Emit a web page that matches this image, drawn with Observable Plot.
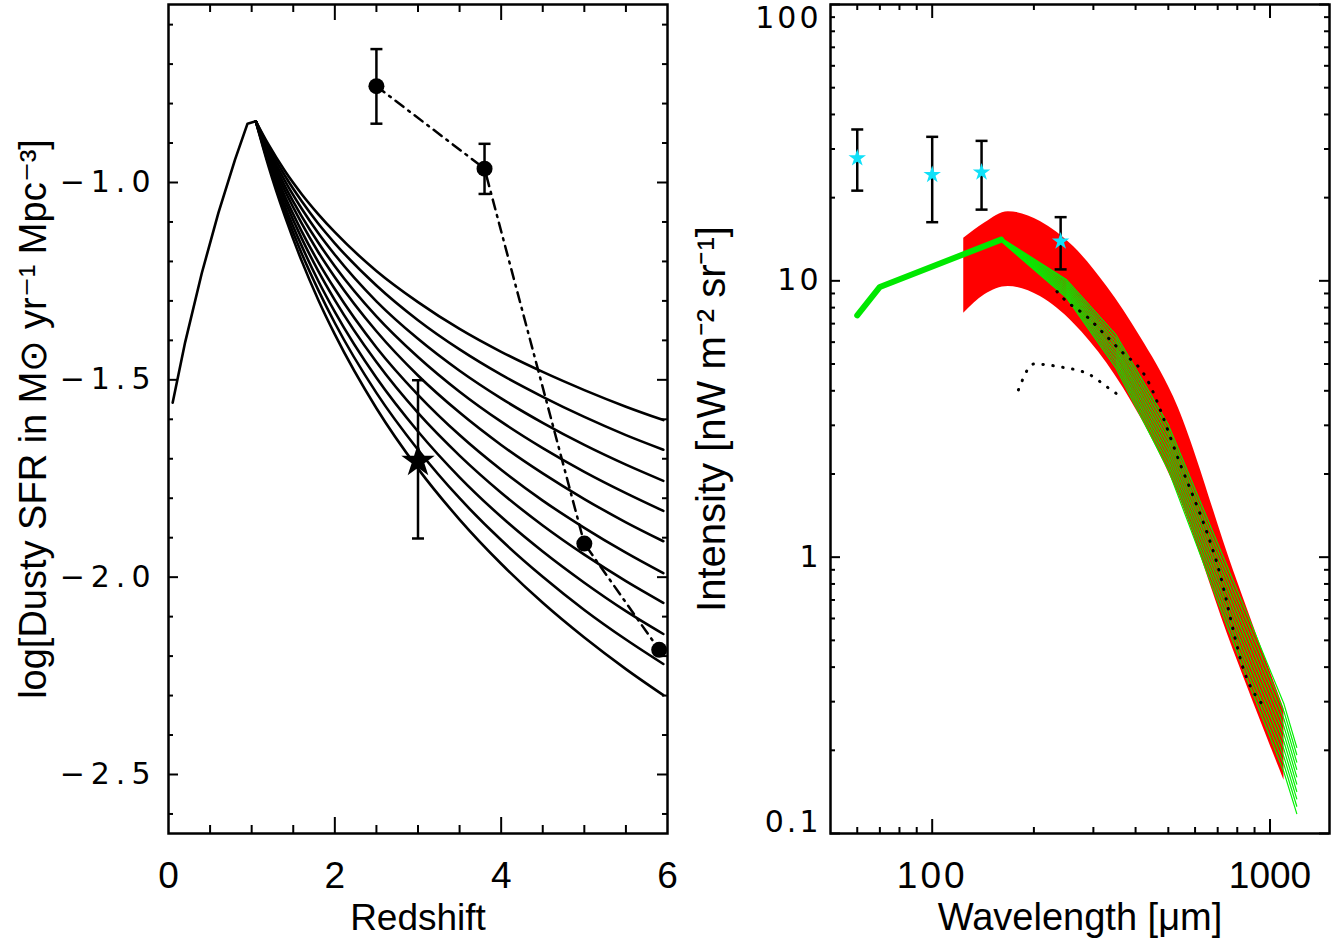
<!DOCTYPE html>
<html><head><meta charset="utf-8">
<script src="https://cdn.jsdelivr.net/npm/d3@7"></script>
<script src="https://cdn.jsdelivr.net/npm/@observablehq/plot@0.6"></script>
<style>
html,body{margin:0;padding:0;background:#fff;}
#wrap{position:relative;width:1343px;height:943px;overflow:hidden;background:#fff;}
#left,#right{position:absolute;top:0;}
#left{left:0;} #right{left:680px;}
</style></head><body>
<div id="wrap"><div id="left"></div><div id="right"></div></div>
<script>
// ---------------- Left panel: dusty SFR density vs redshift ----------------
const zModel = [1.05, 1.2, 1.4, 1.6, 1.8, 2.0, 2.5, 3.0, 3.5, 4.0, 4.5, 5.0, 5.5, 5.95];
const sfrModel1  = [-0.845,-0.903,-0.971,-1.029,-1.080,-1.126,-1.224,-1.303,-1.371,-1.429,-1.480,-1.526,-1.568,-1.602];
const sfrModel2  = [-0.845,-0.909,-0.983,-1.047,-1.104,-1.154,-1.261,-1.349,-1.423,-1.487,-1.543,-1.594,-1.640,-1.677];
const sfrModel3  = [-0.845,-0.915,-0.996,-1.066,-1.128,-1.183,-1.301,-1.396,-1.477,-1.547,-1.609,-1.665,-1.715,-1.756];
const sfrModel4  = [-0.845,-0.921,-1.009,-1.085,-1.152,-1.212,-1.339,-1.442,-1.530,-1.606,-1.673,-1.733,-1.787,-1.832];
const sfrModel5  = [-0.845,-0.927,-1.021,-1.103,-1.176,-1.240,-1.377,-1.489,-1.583,-1.665,-1.737,-1.802,-1.861,-1.909];
const sfrModel6  = [-0.845,-0.933,-1.035,-1.123,-1.201,-1.270,-1.418,-1.538,-1.640,-1.728,-1.806,-1.875,-1.938,-1.990];
const sfrModel7  = [-0.845,-0.939,-1.047,-1.141,-1.224,-1.298,-1.455,-1.584,-1.692,-1.786,-1.869,-1.943,-2.010,-2.065];
const sfrModel8  = [-0.845,-0.945,-1.060,-1.160,-1.249,-1.328,-1.495,-1.631,-1.747,-1.847,-1.935,-2.014,-2.086,-2.144];
const sfrModel9  = [-0.845,-0.951,-1.073,-1.179,-1.272,-1.356,-1.533,-1.677,-1.800,-1.906,-1.999,-2.083,-2.158,-2.220];
const sfrModel10 = [-0.845,-0.957,-1.086,-1.198,-1.297,-1.385,-1.572,-1.725,-1.854,-1.966,-2.065,-2.153,-2.233,-2.299];
const sfrModels = [sfrModel1,sfrModel2,sfrModel3,sfrModel4,sfrModel5,sfrModel6,sfrModel7,sfrModel8,sfrModel9,sfrModel10];

const zRise   = [0.05, 0.2, 0.4, 0.6, 0.8, 0.95, 1.05];
const sfrRise = [-1.558, -1.405, -1.230, -1.077, -0.942, -0.851, -0.845];

const zObs     = [2.5, 3.8, 5.0, 5.9];
const sfrObs   = [-0.756, -0.965, -1.915, -2.184];
const zObsErr  = [2.5, 3.8];
const sfrObsLo = [-0.851, -1.029];
const sfrObsHi = [-0.662, -0.902];

const zStar = [3.0];
const sfrStar = [-1.706];
const sfrStarLo = [-1.902];
const sfrStarHi = [-1.501];

const zTickMajor = [0, 2, 4, 6];
const zTickMinor = [0.5, 1, 1.5, 2.5, 3, 3.5, 4.5, 5, 5.5];
const sfrTickMajor = [-1.0, -1.5, -2.0, -2.5];
const sfrTickMinor = [-0.6,-0.7,-0.8,-0.9,-1.1,-1.2,-1.3,-1.4,-1.6,-1.7,-1.8,-1.9,-2.1,-2.2,-2.3,-2.4,-2.6];
const sfrTickLabels = ["\u22121.0", "\u22121.5", "\u22122.0", "\u22122.5"];

// ---------------- Right panel: background intensity vs wavelength ----------------
const redLam = [124, 143, 168, 209, 262, 329, 413, 518, 779, 1100];
const redLo  = [7.64, 8.9, 9.54, 8.77, 7.03, 5.03, 3.22, 1.85, 0.461, 0.156];
const redHi  = [14.26, 16.2, 17.8, 16.4, 13.3, 9.54, 6.28, 3.81, 0.897, 0.283];

const greenLamShared = [60, 70, 160];
const greenIShared   = [7.5, 9.5, 14.1];
const greenLam = [160, 250, 350, 500, 850, 1100, 1200];
const greenHi  = [14.3, 10.08, 6.37, 3.01, 0.633, 0.294, 0.205];
const greenLo  = [13.9, 8.68, 4.84, 2.07, 0.37, 0.1665, 0.118];

const dotALam = [234, 244, 287, 329, 364, 422, 541, 697, 850, 980];
const dotAI   = [9.15, 8.66, 7.42, 6.28, 5.54, 4.63, 2.19, 0.948, 0.369, 0.281];
const dotBLam = [180, 200, 240, 293, 332, 367];
const dotBI   = [4.03, 5.0, 4.88, 4.57, 4.10, 3.76];

const lamObs  = [60, 100, 140, 240];
const intObs  = [27.8, 24.2, 24.7, 13.9];
const intObsLo = [21.2, 16.3, 18.1, 11.0];
const intObsHi = [35.3, 33.2, 32.1, 17.0];

const lamTickMajor = [100, 1000];
const lamTickMinor = [60, 70, 80, 90, 200, 300, 400, 500, 600, 700, 800, 900];
const intTickMajor = [0.1, 1, 10, 100];
const intTickMinor = [0.2,0.3,0.4,0.5,0.6,0.7,0.8,0.9,2,3,4,5,6,7,8,9,20,30,40,50,60,70,80,90];
const intTickLabels = ["0.1", "1", "10", "100"];

// ---------------- helpers ----------------
const capSymbol = {draw(ctx, size) { const w = Math.sqrt(size / Math.PI); ctx.moveTo(-w, 0); ctx.lineTo(w, 0); }};
const TXT = "'Liberation Sans', Arial, sans-serif";
const NUM = "'DejaVu Sans', sans-serif";

function frameTicks(W, H, xMaj, xMin, yMaj, yMin, xMajLen, xMinLen, yMajLen, yMinLen) {
  const s = {stroke: "#000", strokeWidth: 2};
  return [
    Plot.tickX(xMaj, {x: d => d, insetTop: H - xMajLen, ...s}),
    Plot.tickX(xMaj, {x: d => d, insetBottom: H - xMajLen, ...s}),
    Plot.tickX(xMin, {x: d => d, insetTop: H - xMinLen, ...s}),
    Plot.tickX(xMin, {x: d => d, insetBottom: H - xMinLen, ...s}),
    Plot.tickY(yMaj, {y: d => d, insetRight: W - yMajLen, ...s}),
    Plot.tickY(yMaj, {y: d => d, insetLeft: W - yMajLen, ...s}),
    Plot.tickY(yMin, {y: d => d, insetRight: W - yMinLen, ...s}),
    Plot.tickY(yMin, {y: d => d, insetLeft: W - yMinLen, ...s})
  ];
}
function spaceText(svg, labels, spacing) {
  const set = new Set(labels);
  svg.querySelectorAll("text").forEach(t => {
    if (set.has(t.textContent.trim())) t.setAttribute("letter-spacing", spacing);
  });
}

// ---------------- left plot ----------------
{
  const mL = 168, mR = 13, mT = 4, mB = 110, width = 680, height = 943;
  const W = width - mL - mR, H = height - mT - mB;
  const modelRows = sfrModels.flatMap((s, k) => s.map((v, i) => ({z: zModel[i], v, k})));
  const riseRows = zRise.map((z, i) => ({z, v: sfrRise[i]}));
  const obsRows = zObs.map((z, i) => ({z, v: sfrObs[i]}));
  const obsErr = zObsErr.map((z, i) => ({z, lo: sfrObsLo[i], hi: sfrObsHi[i]}));
  const starErr = zStar.map((z, i) => ({z, v: sfrStar[i], lo: sfrStarLo[i], hi: sfrStarHi[i]}));
  const p = Plot.plot({
    width, height, marginLeft: mL, marginRight: mR, marginTop: mT, marginBottom: mB,
    style: {background: "#fff", fontFamily: TXT, overflow: "visible"},
    x: {domain: [0, 6], axis: null},
    y: {domain: [-2.6495, -0.549], axis: null},
    marks: [
      Plot.line(riseRows, {x: "z", y: "v", stroke: "#000", strokeWidth: 2.6}),
      Plot.line(modelRows, {x: "z", y: "v", z: "k", stroke: "#000", strokeWidth: 2.6, curve: "monotone-x"}),
      Plot.line(obsRows, {x: "z", y: "v", stroke: "#000", strokeWidth: 2.5, strokeDasharray: "10 6 2 6"}),
      Plot.ruleX(obsErr, {x: "z", y1: "lo", y2: "hi", stroke: "#000", strokeWidth: 2.5}),
      Plot.dot(obsErr, {x: "z", y: "lo", symbol: capSymbol, r: 6, fill: "none", stroke: "#000", strokeWidth: 2.5}),
      Plot.dot(obsErr, {x: "z", y: "hi", symbol: capSymbol, r: 6, fill: "none", stroke: "#000", strokeWidth: 2.5}),
      Plot.dot(obsRows, {x: "z", y: "v", r: 8, fill: "#000", stroke: "none"}),
      Plot.ruleX(starErr, {x: "z", y1: "lo", y2: "hi", stroke: "#000", strokeWidth: 2.5}),
      Plot.dot(starErr, {x: "z", y: "lo", symbol: capSymbol, r: 6, fill: "none", stroke: "#000", strokeWidth: 2.5}),
      Plot.dot(starErr, {x: "z", y: "hi", symbol: capSymbol, r: 6, fill: "none", stroke: "#000", strokeWidth: 2.5}),
      Plot.dot(starErr, {x: "z", y: "v", symbol: "star", r: 10.5, fill: "#000", stroke: "none"}),
      ...frameTicks(W, H, [2, 4], zTickMinor, sfrTickMajor, sfrTickMinor, 16, 8, 10, 5),
      Plot.frame({stroke: "#000", strokeWidth: 2.5}),
      Plot.text(zTickMajor, {x: d => d, frameAnchor: "bottom", dy: 54, text: d => String(d), fontSize: 37, fontFamily: TXT, fill: "#000"}),
      Plot.text(sfrTickMajor, {y: d => d, frameAnchor: "left", dx: -12, textAnchor: "end", text: (d, i) => sfrTickLabels[i], fontSize: 30, fontFamily: NUM, fill: "#000"}),
      Plot.text(["Redshift"], {frameAnchor: "bottom", dy: 96, text: d => d, fontSize: 37, fontFamily: TXT, fill: "#000"}),
      Plot.text(["log[Dusty SFR in M\u2299 yr\u207B\u00B9 Mpc\u207B\u00B3]"], {frameAnchor: "left", dx: -135, rotate: -90, textAnchor: "middle", text: d => d, fontSize: 38, fontFamily: TXT, fill: "#000"})
    ]
  });
  spaceText(p, sfrTickLabels, 6);
  document.getElementById("left").appendChild(p);
}

// ---------------- right plot ----------------
{
  const mL = 150, mR = 14, mT = 4, mB = 110, width = 663, height = 943;
  const W = width - mL - mR, H = height - mT - mB;
  const redRows = redLam.map((l, i) => ({l, lo: redLo[i], hi: redHi[i]}));
  const sharedRows = greenLamShared.map((l, i) => ({l, v: greenIShared[i]}));
  const nGreen = 10;
  const greenRows = [];
  for (let k = 0; k < nGreen; k++) {
    const f = k / (nGreen - 1);
    greenLam.forEach((l, i) => greenRows.push({l, k, v: Math.exp(Math.log(greenHi[i]) * (1 - f) + Math.log(greenLo[i]) * f)}));
  }
  const dotARows = dotALam.map((l, i) => ({l, v: dotAI[i]}));
  const dotBRows = dotBLam.map((l, i) => ({l, v: dotBI[i]}));
  const obsRows = lamObs.map((l, i) => ({l, v: intObs[i], lo: intObsLo[i], hi: intObsHi[i]}));
  const p = Plot.plot({
    width, height, marginLeft: mL, marginRight: mR, marginTop: mT, marginBottom: mB,
    style: {background: "#fff", fontFamily: TXT, overflow: "visible"},
    x: {type: "log", domain: [50, 1500], axis: null},
    y: {type: "log", domain: [0.1, 100], axis: null},
    marks: [
      Plot.areaY(redRows, {x: "l", y1: "lo", y2: "hi", fill: "#ff0000", curve: "monotone-x"}),
      Plot.line(greenRows, {x: "l", y: "v", z: "k", stroke: "#00f000", strokeWidth: 1.2}),
      Plot.line(sharedRows, {x: "l", y: "v", stroke: "#00e800", strokeWidth: 6, strokeLinejoin: "miter"}),
      Plot.line(dotARows, {x: "l", y: "v", stroke: "#000", strokeWidth: 3, strokeDasharray: "0.5 9.5", strokeLinecap: "round", curve: "monotone-x"}),
      Plot.line(dotBRows, {x: "l", y: "v", stroke: "#000", strokeWidth: 3, strokeDasharray: "0.5 9.5", strokeLinecap: "round", curve: "monotone-x"}),
      Plot.ruleX(obsRows, {x: "l", y1: "lo", y2: "hi", stroke: "#000", strokeWidth: 2.5}),
      Plot.dot(obsRows, {x: "l", y: "lo", symbol: capSymbol, r: 6, fill: "none", stroke: "#000", strokeWidth: 2.5}),
      Plot.dot(obsRows, {x: "l", y: "hi", symbol: capSymbol, r: 6, fill: "none", stroke: "#000", strokeWidth: 2.5}),
      Plot.dot(obsRows, {x: "l", y: "v", symbol: "star", r: 5.5, fill: "#10e0f8", stroke: "none"}),
      ...frameTicks(W, H, lamTickMajor, lamTickMinor, intTickMajor, intTickMinor, 14, 6, 10, 5),
      Plot.frame({stroke: "#000", strokeWidth: 2.5}),
      Plot.text(lamTickMajor, {x: d => d, frameAnchor: "bottom", dy: 54, text: d => String(d), fontSize: 37, fontFamily: TXT, fill: "#000"}),
      Plot.text([10, 1], {y: d => d, frameAnchor: "left", dx: -9, textAnchor: "end", text: d => intTickLabels[intTickMajor.indexOf(d)], fontSize: 30, fontFamily: NUM, fill: "#000"}),
      Plot.text([100], {y: d => d, frameAnchor: "left", dx: -9, dy: 14, textAnchor: "end", text: d => intTickLabels[intTickMajor.indexOf(d)], fontSize: 30, fontFamily: NUM, fill: "#000"}),
      Plot.text([0.1], {y: d => d, frameAnchor: "left", dx: -9, dy: -11, textAnchor: "end", text: d => intTickLabels[intTickMajor.indexOf(d)], fontSize: 30, fontFamily: NUM, fill: "#000"}),
      Plot.text(["Wavelength [\u03BCm]"], {frameAnchor: "bottom", dy: 96, text: d => d, fontSize: 38, fontFamily: TXT, fill: "#000"}),
      Plot.text(["Intensity [nW m\u207B\u00B2 sr\u207B\u00B9]"], {frameAnchor: "left", dx: -118, rotate: -90, textAnchor: "middle", text: d => d, fontSize: 40, fontFamily: TXT, fill: "#000"})
    ]
  });
  spaceText(p, intTickLabels, 3);
  document.getElementById("right").appendChild(p);
}
</script>
</body></html>
